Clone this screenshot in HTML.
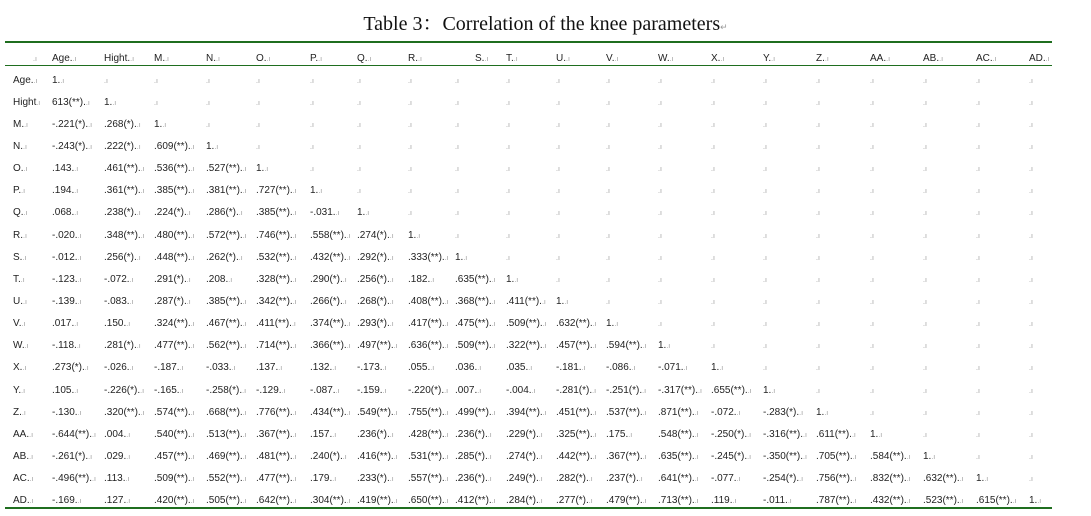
<!DOCTYPE html>
<html><head><meta charset="utf-8"><style>
body{margin:0;width:1091px;height:516px;background:#fff;position:relative;overflow:hidden;font-family:"Liberation Sans",Arial,sans-serif}
.title{position:absolute;top:7px;left:0;width:1091px;text-align:center;font-family:"Liberation Serif","Noto Serif CJK SC",serif;font-size:20px;color:#111}
.title i{font-style:normal;font-size:9px;color:#999}
.ln{position:absolute;left:5px;width:1047px;background:#1f6e1f}
table{position:absolute;left:13px;top:47px;border-collapse:collapse;table-layout:fixed;font-size:10px;color:#222}
td{padding:0;white-space:nowrap;height:22.15px;vertical-align:middle;overflow:visible}
tr.h td{height:22px}
td::after{content:".\0131";font-size:7px;color:#999}
.rm{position:absolute;left:1054px;font-size:7px;color:#999}
</style></head><body>
<div class="title">Table 3：Correlation of the knee parameters<i>↵</i></div>
<div class="ln" style="top:41px;height:2px"></div>
<div class="ln" style="top:65px;height:1px"></div>
<div class="ln" style="top:507px;height:2px"></div>
<table>
<colgroup><col style="width:39px"><col style="width:52px"><col style="width:50px"><col style="width:52px"><col style="width:50px"><col style="width:54px"><col style="width:47px"><col style="width:51px"><col style="width:47px"><col style="width:51px"><col style="width:50px"><col style="width:50px"><col style="width:52px"><col style="width:53px"><col style="width:52px"><col style="width:53px"><col style="width:54px"><col style="width:53px"><col style="width:53px"><col style="width:53px"><col style="width:31px"></colgroup>
<tr class="h"><td style="padding-left:20px"></td><td>Age.</td><td>Hight.</td><td>M.</td><td>N.</td><td>O.</td><td>P.</td><td>Q.</td><td>R.</td><td style="padding-left:20px">S.</td><td>T.</td><td>U.</td><td>V.</td><td>W.</td><td>X.</td><td>Y.</td><td>Z.</td><td>AA.</td><td>AB.</td><td>AC.</td><td>AD.</td></tr>
<tr><td>Age.</td><td>1.</td><td></td><td></td><td></td><td></td><td></td><td></td><td></td><td></td><td></td><td></td><td></td><td></td><td></td><td></td><td></td><td></td><td></td><td></td><td></td></tr>
<tr><td>Hight</td><td>613(**).</td><td>1.</td><td></td><td></td><td></td><td></td><td></td><td></td><td></td><td></td><td></td><td></td><td></td><td></td><td></td><td></td><td></td><td></td><td></td><td></td></tr>
<tr><td>M.</td><td>-.221(*).</td><td>.268(*).</td><td>1.</td><td></td><td></td><td></td><td></td><td></td><td></td><td></td><td></td><td></td><td></td><td></td><td></td><td></td><td></td><td></td><td></td><td></td></tr>
<tr><td>N.</td><td>-.243(*).</td><td>.222(*).</td><td>.609(**).</td><td>1.</td><td></td><td></td><td></td><td></td><td></td><td></td><td></td><td></td><td></td><td></td><td></td><td></td><td></td><td></td><td></td><td></td></tr>
<tr><td>O.</td><td>.143.</td><td>.461(**).</td><td>.536(**).</td><td>.527(**).</td><td>1.</td><td></td><td></td><td></td><td></td><td></td><td></td><td></td><td></td><td></td><td></td><td></td><td></td><td></td><td></td><td></td></tr>
<tr><td>P.</td><td>.194.</td><td>.361(**).</td><td>.385(**).</td><td>.381(**).</td><td>.727(**).</td><td>1.</td><td></td><td></td><td></td><td></td><td></td><td></td><td></td><td></td><td></td><td></td><td></td><td></td><td></td><td></td></tr>
<tr><td>Q.</td><td>.068.</td><td>.238(*).</td><td>.224(*).</td><td>.286(*).</td><td>.385(**).</td><td>-.031.</td><td>1.</td><td></td><td></td><td></td><td></td><td></td><td></td><td></td><td></td><td></td><td></td><td></td><td></td><td></td></tr>
<tr><td>R.</td><td>-.020.</td><td>.348(**).</td><td>.480(**).</td><td>.572(**).</td><td>.746(**).</td><td>.558(**).</td><td>.274(*).</td><td>1.</td><td></td><td></td><td></td><td></td><td></td><td></td><td></td><td></td><td></td><td></td><td></td><td></td></tr>
<tr><td>S.</td><td>-.012.</td><td>.256(*).</td><td>.448(**).</td><td>.262(*).</td><td>.532(**).</td><td>.432(**).</td><td>.292(*).</td><td>.333(**).</td><td>1.</td><td></td><td></td><td></td><td></td><td></td><td></td><td></td><td></td><td></td><td></td><td></td></tr>
<tr><td>T.</td><td>-.123.</td><td>-.072.</td><td>.291(*).</td><td>.208.</td><td>.328(**).</td><td>.290(*).</td><td>.256(*).</td><td>.182.</td><td>.635(**).</td><td>1.</td><td></td><td></td><td></td><td></td><td></td><td></td><td></td><td></td><td></td><td></td></tr>
<tr><td>U.</td><td>-.139.</td><td>-.083.</td><td>.287(*).</td><td>.385(**).</td><td>.342(**).</td><td>.266(*).</td><td>.268(*).</td><td>.408(**).</td><td>.368(**).</td><td>.411(**).</td><td>1.</td><td></td><td></td><td></td><td></td><td></td><td></td><td></td><td></td><td></td></tr>
<tr><td>V.</td><td>.017.</td><td>.150.</td><td>.324(**).</td><td>.467(**).</td><td>.411(**).</td><td>.374(**).</td><td>.293(*).</td><td>.417(**).</td><td>.475(**).</td><td>.509(**).</td><td>.632(**).</td><td>1.</td><td></td><td></td><td></td><td></td><td></td><td></td><td></td><td></td></tr>
<tr><td>W.</td><td>-.118.</td><td>.281(*).</td><td>.477(**).</td><td>.562(**).</td><td>.714(**).</td><td>.366(**).</td><td>.497(**).</td><td>.636(**).</td><td>.509(**).</td><td>.322(**).</td><td>.457(**).</td><td>.594(**).</td><td>1.</td><td></td><td></td><td></td><td></td><td></td><td></td><td></td></tr>
<tr><td>X.</td><td>.273(*).</td><td>-.026.</td><td>-.187.</td><td>-.033.</td><td>.137.</td><td>.132.</td><td>-.173.</td><td>.055.</td><td>.036.</td><td>.035.</td><td>-.181.</td><td>-.086.</td><td>-.071.</td><td>1.</td><td></td><td></td><td></td><td></td><td></td><td></td></tr>
<tr><td>Y.</td><td>.105.</td><td>-.226(*).</td><td>-.165.</td><td>-.258(*).</td><td>-.129.</td><td>-.087.</td><td>-.159.</td><td>-.220(*).</td><td>.007.</td><td>-.004.</td><td>-.281(*).</td><td>-.251(*).</td><td>-.317(**).</td><td>.655(**).</td><td>1.</td><td></td><td></td><td></td><td></td><td></td></tr>
<tr><td>Z.</td><td>-.130.</td><td>.320(**).</td><td>.574(**).</td><td>.668(**).</td><td>.776(**).</td><td>.434(**).</td><td>.549(**).</td><td>.755(**).</td><td>.499(**).</td><td>.394(**).</td><td>.451(**).</td><td>.537(**).</td><td>.871(**).</td><td>-.072.</td><td>-.283(*).</td><td>1.</td><td></td><td></td><td></td><td></td></tr>
<tr><td>AA.</td><td>-.644(**).</td><td>.004.</td><td>.540(**).</td><td>.513(**).</td><td>.367(**).</td><td>.157.</td><td>.236(*).</td><td>.428(**).</td><td>.236(*).</td><td>.229(*).</td><td>.325(**).</td><td>.175.</td><td>.548(**).</td><td>-.250(*).</td><td>-.316(**).</td><td>.611(**).</td><td>1.</td><td></td><td></td><td></td></tr>
<tr><td>AB.</td><td>-.261(*).</td><td>.029.</td><td>.457(**).</td><td>.469(**).</td><td>.481(**).</td><td>.240(*).</td><td>.416(**).</td><td>.531(**).</td><td>.285(*).</td><td>.274(*).</td><td>.442(**).</td><td>.367(**).</td><td>.635(**).</td><td>-.245(*).</td><td>-.350(**).</td><td>.705(**).</td><td>.584(**).</td><td>1.</td><td></td><td></td></tr>
<tr><td>AC.</td><td>-.496(**).</td><td>.113.</td><td>.509(**).</td><td>.552(**).</td><td>.477(**).</td><td>.179.</td><td>.233(*).</td><td>.557(**).</td><td>.236(*).</td><td>.249(*).</td><td>.282(*).</td><td>.237(*).</td><td>.641(**).</td><td>-.077.</td><td>-.254(*).</td><td>.756(**).</td><td>.832(**).</td><td>.632(**).</td><td>1.</td><td></td></tr>
<tr><td>AD.</td><td>-.169.</td><td>.127.</td><td>.420(**).</td><td>.505(**).</td><td>.642(**).</td><td>.304(**).</td><td>.419(**).</td><td>.650(**).</td><td>.412(**).</td><td>.284(*).</td><td>.277(*).</td><td>.479(**).</td><td>.713(**).</td><td>.119.</td><td>-.011.</td><td>.787(**).</td><td>.432(**).</td><td>.523(**).</td><td>.615(**).</td><td>1.</td></tr>
</table>
</body></html>
